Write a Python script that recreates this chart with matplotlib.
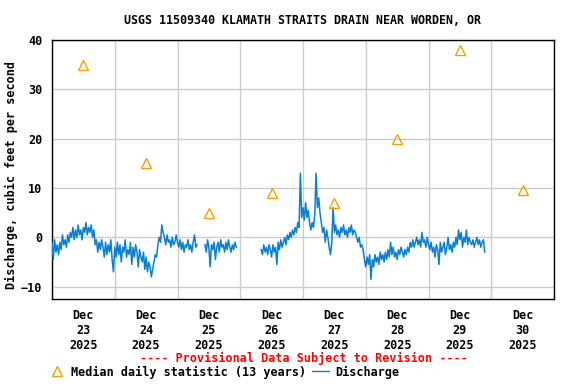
import numpy as np
import pandas as pd
import matplotlib
matplotlib.use("Agg")
import matplotlib.pyplot as plt
import matplotlib.dates as mdates
from matplotlib.lines import Line2D

nan = np.nan

# median daily statistic (13 years), plotted at noon of each day
median_days = ["2025-12-23", "2025-12-24", "2025-12-25", "2025-12-26",
               "2025-12-27", "2025-12-28", "2025-12-29", "2025-12-30"]
median_vals = [35, 15, 5, 9, 7, 20, 38, 9.5]

# discharge, 30-minute values (cfs), one list per day
dec23 = [-1, -4.5, -0.5, -3, -1.5, -3.5,
         -1, -2.5, 0.5, -1.5, -0.5, -2, 0.5, -1, 1,
         0, 2, -0.5, 1.5, 0, 2.5, 0.5, 1.5, -0.5, 2, 1, 3, 0.5, 2, 1, 2.5,
         0, 1.5, -1.5, -0.5, -3, -1, -2.5, -0.5,
         -2, -4, -1, -3.5, -1.5, -3, -0.5, -4.5, -7]
dec24 = [-2, -4, -1, -3.5, -1.5, -5, -2, -3, -0.5, -4, -2.5,
         -3.5, -1, -5.5, -2, -4, -1.5, -3, -6, -2.5, -4,
         -5, -3, -6.5, -4, -7, -5, -6, -8, -6.5,
         -5, -3.5, -4, -1.5, 0, -1, 2.5,
         1, 0, -1.5, 0.5, -1, -0.5, -2, 0, -1.5, -1, 0.5]
dec25 = [-1, -2, -0.5, -2.5, -1, -3, -1.5, -2, -0.5, -2.5, -1.5, -3, -1, 0.5, -2,
         -1.5, nan, nan, nan, nan, nan,
         -1.5, -3, -0.5, -2, -6, -1.5, -2.5, -1, -4.5, -2, -1, -3, -0.5, -2,
         -1.5, -3, -1, -2.5, -0.5, -2, -3, -1.5, -2.5, -1, -2,
         nan, nan]
dec26 = [nan] * 16 + [
         -2.5, -3.5, -1.5, -3, -2, -3.5, -1.5, -2.5, -4, -1.5, -3,
         -2, -5.5, -1, -2.5, -0.5, -2, -1,
         0, -1.5, 0.5, -0.5, 1, 0, 1.5,
         0.5, 2, 1, 3, 2, 13, 4]
dec27 = [6, 3.5, 7, 4, 5.5, 3,
         1.5, 3, 2, 4.5,
         13,
         6, 8, 5, 3,
         1, 2, -1, 1.5, 0, -2, -3.5, -1,
         6,
         1, 2.5, 0.5, 1.5, 0, 2, 1, 2.5, 0.5, 1.5, 0,
         2, 1, 2.5, 0.5, 1.5, 1,
         0, -1, 0, -2, -1.5, -2.5, -4.5]
dec28 = [-6, -4, -5.5, -3.5, -8.5, -4.5, -6, -3.5, -5, -4, -5.5, -3, -4.5, -3.5, -5,
         -3, -4.5, -2.5, -4, -1, -3.5, -2, -4, -3, -4.5, -2.5, -3.5, -2, -3, -4,
         -2.5, -3.5, -2, -3,
         -1, -2, -0.5, -2, -1, 0, -1.5, -0.5, -2, 1, -1, -0.5, -2, 0]
dec29 = [-1.5, -2.5, -1, -3, -2, -4, -1.5, -2.5, -5.5, -1, -3, -2, -1, -3.5, -2,
         0, -2.5, -1.5, -3, -1, -2,
         0, -1.5, 1.5, -0.5, 1, -2, 0, -1, 1.5, -1.5, 0, -1,
         -1.5, -0.5, -2, -1, 0, -1.5, -0.5, -2, -1, -0.5, -3,
         nan, nan, nan, nan]

discharge = dec23 + dec24 + dec25 + dec26 + dec27 + dec28 + dec29
times = pd.date_range("2025-12-23 00:00", periods=len(discharge), freq="30min")
median_t = pd.to_datetime(median_days) + pd.Timedelta(hours=12)

font = "DejaVu Sans Mono"
fs = 8.5
fs_title = 8.4
blue = "#0a7fd0"
orange = "#f5a000"

fig = plt.figure(figsize=(5.76, 3.84), dpi=100)
ax = fig.add_axes([52 / 576, 1 - 299 / 384, 502 / 576, 259 / 384])

ax.plot(times, discharge, color=blue, lw=1.1, zorder=3)
ax.plot(median_t, median_vals, ls="none", marker="^", ms=7, mfc="none",
        mec=orange, mew=1.0, zorder=4)

ax.set_xlim(pd.Timestamp("2025-12-23"), pd.Timestamp("2025-12-31"))
ax.set_ylim(-12.5, 40)
ax.set_yticks([-10, 0, 10, 20, 30, 40])

ax.xaxis.set_major_locator(mdates.HourLocator(byhour=[12]))
ax.xaxis.set_major_formatter(mdates.DateFormatter("%b\n%d\n%Y"))
ax.xaxis.set_minor_locator(mdates.DayLocator())
ax.grid(which="minor", axis="x", color="#cccccc", lw=1)
ax.grid(which="major", axis="y", color="#cccccc", lw=1)
ax.grid(which="major", axis="x", visible=False)
ax.tick_params(which="both", length=0)
ax.tick_params(axis="x", pad=7)
ax.tick_params(axis="y", pad=7)
for lab in ax.get_xticklabels() + ax.get_yticklabels():
    lab.set_fontfamily(font)
    lab.set_fontweight("bold")
    lab.set_fontsize(fs)
    lab.set_linespacing(1.2)
for s in ax.spines.values():
    s.set_linewidth(1)

ax.set_ylabel("Discharge, cubic feet per second", fontfamily=font,
              fontweight="bold", fontsize=fs)
ax.yaxis.set_label_coords(-0.068, 0.48)
fig.text(303 / 576, 1 - 20 / 384, "USGS 11509340 KLAMATH STRAITS DRAIN NEAR WORDEN, OR",
         ha="center", va="center", fontfamily=font, fontweight="bold", fontsize=fs_title)
fig.text(304 / 576, 1 - 358 / 384, "---- Provisional Data Subject to Revision ----",
         ha="center", va="center", color="red", fontfamily=font,
         fontweight="bold", fontsize=fs)

handles = [Line2D([], [], ls="none", marker="^", ms=7, mfc="none", mec=orange),
           Line2D([], [], color=blue, lw=1)]
fig.legend(handles, ["Median daily statistic (13 years)", "Discharge"],
           loc="center left", bbox_to_anchor=(48 / 576, 1 - 372 / 384), ncol=2,
           frameon=False, handlelength=1.45, handletextpad=0.5, columnspacing=0.5,
           borderaxespad=0, borderpad=0,
           prop={"family": font, "weight": "bold", "size": fs})

fig.savefig("out.png", dpi=100)
